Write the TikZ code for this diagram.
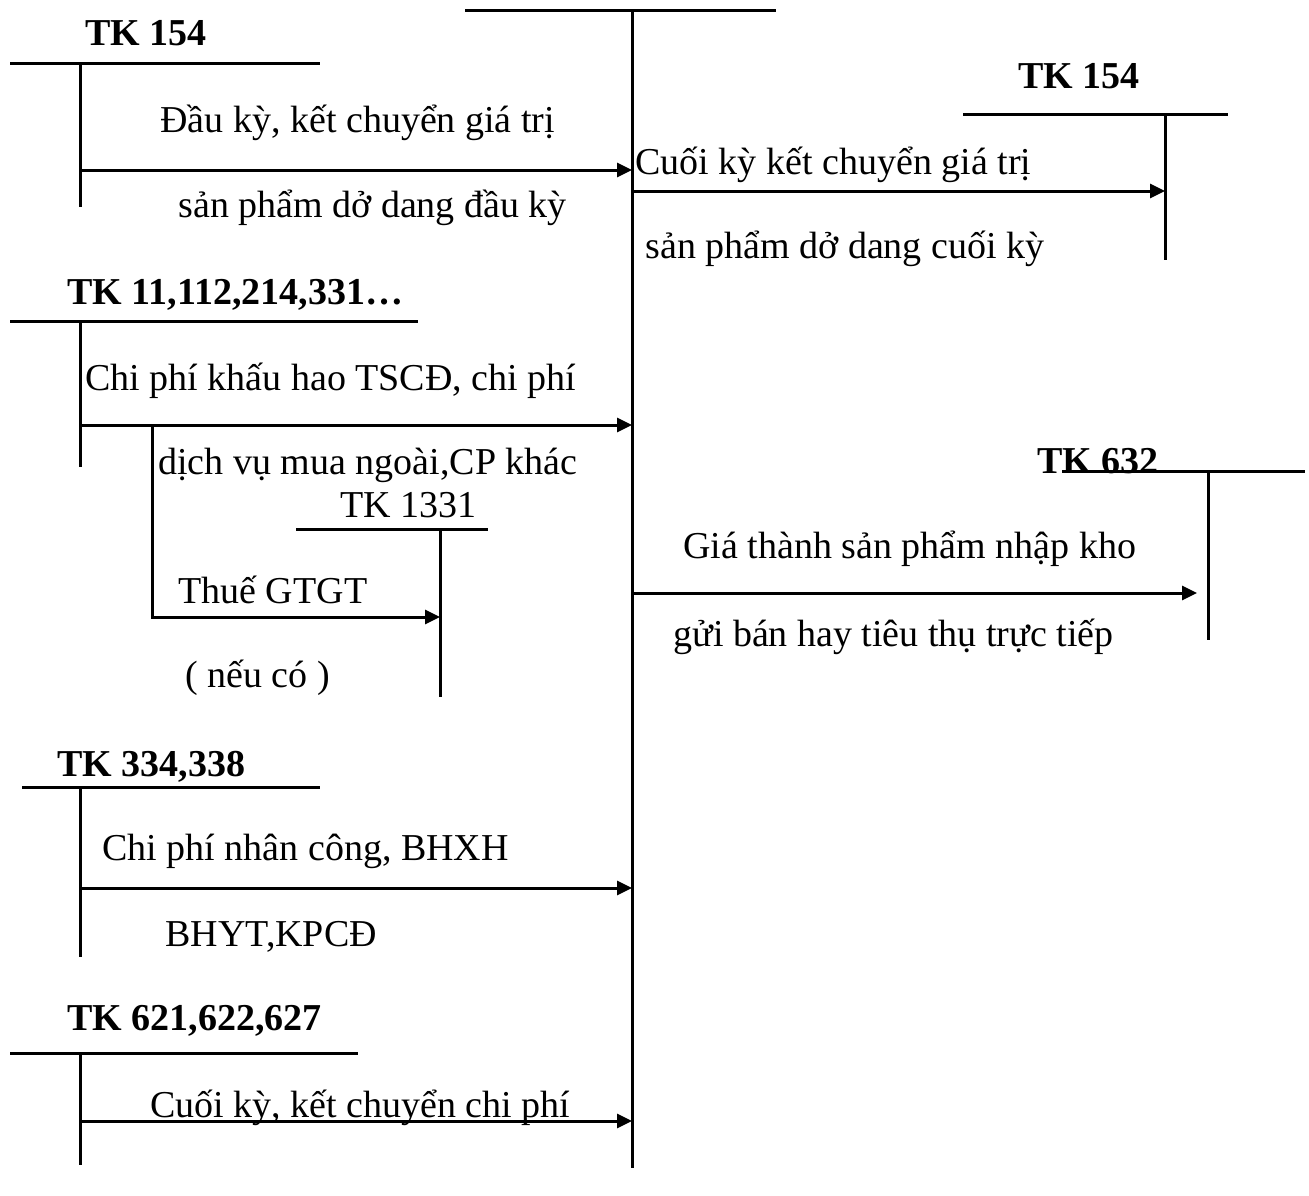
\documentclass[tikz,border=0pt]{standalone}
\usepackage{fontspec}
\setmainfont{Liberation Serif}
\usetikzlibrary{arrows.meta}
\begin{document}
\begin{tikzpicture}[x=0.5pt,y=-0.5pt,
  acc/.style={line width=1.5pt},
  arr/.style={line width=1.5pt,-{Triangle[length=7.5pt,width=7pt]}},
  lbl/.style={anchor=base west,inner sep=0pt,font=\fontsize{19}{22}\selectfont},
  ttl/.style={anchor=base west,inner sep=0pt,font=\fontsize{19}{22}\selectfont\bfseries}]
\useasboundingbox (0,0) rectangle (1309,1195);
% central account
\coordinate (mT1) at (465,10); \coordinate (mT2) at (776,10);
\coordinate (mV1) at (632,10); \coordinate (mV2) at (632,1168);
\draw[acc] (mT1) -- (mT2); \draw[acc] (mV1) -- (mV2);
\coordinate (m1) at (632,170); \coordinate (m2) at (632,191);
\coordinate (m3) at (632,425); \coordinate (m4) at (632,593);
\coordinate (m5) at (632,888); \coordinate (m6) at (632,1121);

% TK 154 left
\node[ttl] (t154l) at (85,45) {TK 154};
\coordinate (a1) at (10,63); \coordinate (a2) at (320,63);
\coordinate (a3) at (80,63); \coordinate (a4) at (80,207);
\draw[acc] (a1) -- (a2); \draw[acc] (a3) -- (a4);
\coordinate (a5) at (80,170);
\draw[arr] (a5) -- (m1);
\node[lbl] (l1) at (160,132) {Đầu kỳ, kết chuyển giá trị};
\node[lbl] (l2) at (178,217) {sản phẩm dở dang đầu kỳ};

% TK 154 right
\node[ttl] (t154r) at (1018,88) {TK 154};
\coordinate (b1) at (963,114); \coordinate (b2) at (1228,114);
\coordinate (b3) at (1165,114); \coordinate (b4) at (1165,260);
\draw[acc] (b1) -- (b2); \draw[acc] (b3) -- (b4);
\coordinate (b5) at (1165,191);
\draw[arr] (m2) -- (b5);
\node[lbl] (l3) at (635,174) {Cuối kỳ kết chuyển giá trị};
\node[lbl] (l4) at (645,258) {sản phẩm dở dang cuối kỳ};

% TK 11,112,214,331
\node[ttl] (t11) at (67,304) {TK 11,112,214,331…};
\coordinate (c1) at (10,321); \coordinate (c2) at (418,321);
\coordinate (c3) at (80,321); \coordinate (c4) at (80,467);
\draw[acc] (c1) -- (c2); \draw[acc] (c3) -- (c4);
\coordinate (c5) at (80,425);
\draw[arr] (c5) -- (m3);
\node[lbl] (l5) at (85,390) {Chi phí khấu hao TSCĐ, chi phí};
\node[lbl] (l6) at (158,474) {dịch vụ mua ngoài,CP khác};
\coordinate (c6) at (152,425);

% TK 1331
\node[lbl] (t1331) at (340,517) {TK 1331};
\coordinate (d1) at (296,529); \coordinate (d2) at (488,529);
\coordinate (d3) at (440,529); \coordinate (d4) at (440,697);
\draw[acc] (d1) -- (d2); \draw[acc] (d3) -- (d4);
\coordinate (d5) at (440,617);
\draw[arr] (c6) |- (d5);
\node[lbl] (l7) at (178,603) {Thuế GTGT};
\node[lbl] (l8) at (185,687) {( nếu có )};

% TK 632
\node[ttl] (t632) at (1037,473) {TK 632};
\coordinate (e1) at (1062,471); \coordinate (e2) at (1305,471);
\coordinate (e3) at (1208,471); \coordinate (e4) at (1208,640);
\draw[acc] (e1) -- (e2); \draw[acc] (e3) -- (e4);
\coordinate (e5) at (1197,593);
\draw[arr] (m4) -- (e5);
\node[lbl] (l9) at (683,558) {Giá thành sản phẩm nhập kho};
\node[lbl] (l10) at (673,646) {gửi bán hay tiêu thụ trực tiếp};

% TK 334,338
\node[ttl] (t334) at (57,776) {TK 334,338};
\coordinate (f1) at (22,787); \coordinate (f2) at (320,787);
\coordinate (f3) at (80,787); \coordinate (f4) at (80,957);
\draw[acc] (f1) -- (f2); \draw[acc] (f3) -- (f4);
\coordinate (f5) at (80,888);
\draw[arr] (f5) -- (m5);
\node[lbl] (l11) at (102,860) {Chi phí nhân công, BHXH};
\node[lbl] (l12) at (165,946) {BHYT,KPCĐ};

% TK 621,622,627
\node[ttl] (t621) at (67,1030) {TK 621,622,627};
\coordinate (g1) at (10,1053); \coordinate (g2) at (358,1053);
\coordinate (g3) at (80,1053); \coordinate (g4) at (80,1165);
\draw[acc] (g1) -- (g2); \draw[acc] (g3) -- (g4);
\coordinate (g5) at (80,1121);
\draw[arr] (g5) -- (m6);
\node[lbl] (l13) at (150,1117) {Cuối kỳ, kết chuyển chi phí};
\end{tikzpicture}
\end{document}
